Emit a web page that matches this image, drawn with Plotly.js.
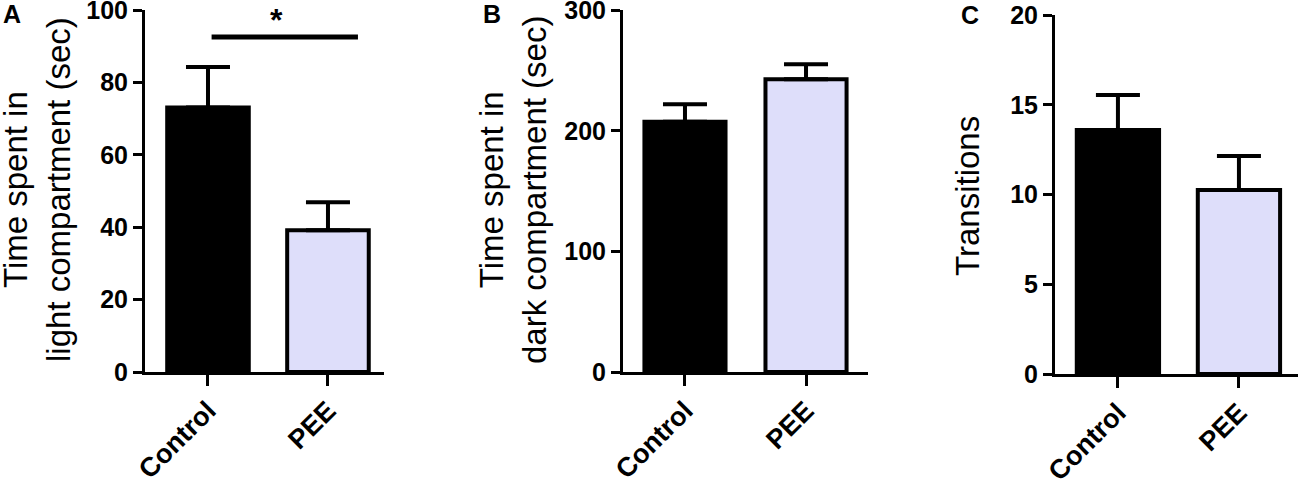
<!DOCTYPE html>
<html>
<head>
<meta charset="utf-8">
<script src="https://cdn.plot.ly/plotly-3.0.1.min.js"></script>
<style>html,body{margin:0;padding:0;background:#fff;}#chart{width:1300px;height:485px;}</style>
</head>
<body>
<div id="chart"></div>
<script>
// ---- data ----
const groups = ["Control", "PEE"];
const lightTime = [73.1, 39.2];
const lightErr = [11.2, 7.7];
const darkTime = [207.4, 242.8];
const darkErr = [14.7, 12.4];
const transitions = [13.6, 10.25];
const transitionsErr = [1.95, 1.9];
const barColors = ["#000000", "#dedefa"];
const panelLetters = ["A", "B", "C"];
const yTitles = ["Time spent in<br>light compartment (sec)", "Time spent in<br>dark compartment (sec)", "Transitions"];
const lightTicks = [0, 20, 40, 60, 80, 100];
const darkTicks = [0, 100, 200, 300];
const transTicks = [0, 5, 10, 15, 20];
const sigLabel = "*";
const sigLevel = 92.6;

const FONT = "Liberation Sans, Arial, Helvetica, sans-serif";
const W = 1300, H = 485;

function barTrace(vals, errs, xa, ya, width) {
  return {
    type: "bar",
    x: groups,
    y: vals,
    xaxis: xa, yaxis: ya,
    width: width,
    marker: {color: barColors, line: {color: "#000", width: 4}},
    error_y: {type: "data", symmetric: false, array: errs, arrayminus: [0, 0],
              color: "#000", thickness: 4, width: 22, visible: true},
    showlegend: false,
    hoverinfo: "x+y"
  };
}

const data = [
  barTrace(lightTime, lightErr, "x", "y", 0.68),
  barTrace(darkTime, darkErr, "x2", "y2", 0.67),
  barTrace(transitions, transitionsErr, "x3", "y3", 0.68)
];

function xax(d0, d1, r0, r1, anchor) {
  return {
    domain: [d0 / W, d1 / W], range: [r0, r1], anchor: anchor,
    type: "category", showgrid: false, zeroline: false,
    showline: true, linecolor: "#000", linewidth: 3,
    ticks: "outside", ticklen: 11, tickwidth: 3, tickcolor: "#000",
    tickangle: -45, ticklabelstandoff: -2,
    tickfont: {family: FONT, size: 27, color: "#000", weight: "bold"},
    fixedrange: true
  };
}
function yax(p0, p1, rmax, tv, anchor) {
  return {
    domain: [(H - p0) / H, (H - p1) / H], range: [0, rmax * 1.0005], anchor: anchor,
    showgrid: false, zeroline: false, tickmode: "array", tickvals: tv,
    ticklabeloverflow: "allow",
    showline: true, linecolor: "#000", linewidth: 3,
    ticks: "outside", ticklen: 9, tickwidth: 3, tickcolor: "#000",
    tickfont: {family: FONT, size: 25, color: "#000", weight: "bold"},
    fixedrange: true
  };
}

const layout = {
  width: W, height: H,
  margin: {l: 0, r: 0, t: 0, b: 0},
  paper_bgcolor: "#fff", plot_bgcolor: "#fff",
  bargap: 0,
  xaxis: xax(145, 384, -0.525, 1.467, "y"),
  yaxis: yax(372, 10, 100, lightTicks, "x"),
  xaxis2: xax(623, 868, -0.512, 1.512, "y2"),
  yaxis2: yax(372, 10, 300, darkTicks, "x2"),
  xaxis3: xax(1055, 1298, -0.52, 1.488, "y3"),
  yaxis3: yax(374, 15, 20, transTicks, "x3"),
  shapes: [
    {type: "line", xref: "x", yref: "y", x0: 0.03, x1: 1.25, y0: sigLevel, y1: sigLevel,
     line: {color: "#000", width: 5}}
  ],
  annotations: [
    {text: sigLabel, xref: "x", yref: "paper", x: 0.567, y: 1, yanchor: "top",
     showarrow: false, font: {family: FONT, size: 32, color: "#000", weight: "bold"}},
    {text: panelLetters[0], xref: "paper", yref: "paper", x: 12 / W, y: 1 - 14 / H,
     xanchor: "center", yanchor: "middle", showarrow: false,
     font: {family: FONT, size: 25, color: "#000", weight: "bold"}},
    {text: panelLetters[1], xref: "paper", yref: "paper", x: 492 / W, y: 1 - 14 / H,
     xanchor: "center", yanchor: "middle", showarrow: false,
     font: {family: FONT, size: 25, color: "#000", weight: "bold"}},
    {text: panelLetters[2], xref: "paper", yref: "paper", x: 970 / W, y: 1 - 15 / H,
     xanchor: "center", yanchor: "middle", showarrow: false,
     font: {family: FONT, size: 25, color: "#000", weight: "bold"}},
    {text: yTitles[0], xref: "paper", yref: "paper", x: 37 / W, y: 1 - 190 / H,
     xanchor: "center", yanchor: "middle", textangle: -90, showarrow: false,
     font: {family: FONT, size: 33, color: "#000"}},
    {text: yTitles[1], xref: "paper", yref: "paper", x: 513 / W, y: 1 - 190 / H,
     xanchor: "center", yanchor: "middle", textangle: -90, showarrow: false,
     font: {family: FONT, size: 33, color: "#000"}},
    {text: yTitles[2], xref: "paper", yref: "paper", x: 967 / W, y: 1 - 196 / H,
     xanchor: "center", yanchor: "middle", textangle: -90, showarrow: false,
     font: {family: FONT, size: 33, color: "#000"}}
  ]
};

Plotly.newPlot("chart", data, layout, {displayModeBar: false, staticPlot: true});
</script>
</body>
</html>
